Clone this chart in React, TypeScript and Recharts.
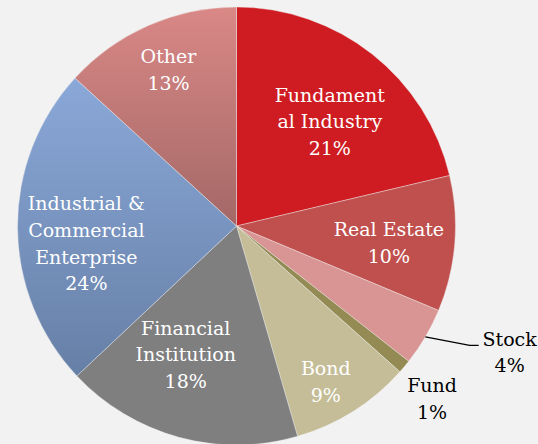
import React from 'react';
import { PieChart, Pie, Cell } from 'recharts';

const categories = [
  'Fundamental Industry',
  'Real Estate',
  'Stock',
  'Fund',
  'Bond',
  'Financial Institution',
  'Industrial & Commercial Enterprise',
  'Other',
];
const shares = [21.3, 10.0, 4.3, 1.0, 8.9, 17.5, 23.8, 13.2];
const labelLines = [
  ['Fundament', 'al Industry'],
  ['Real Estate'],
  ['Stock'],
  ['Fund'],
  ['Bond'],
  ['Financial', 'Institution'],
  ['Industrial &', 'Commercial', 'Enterprise'],
  ['Other'],
];

const data = categories.map((name, i) => ({ name, value: shares[i], lines: labelLines[i] }));

const fills = ['#CE1C22', '#C0504D', '#D99594', '#948A54', '#C4BD97', '#7F7F7F', 'url(#gradBlue)', 'url(#gradRose)'];

// label placement: [radius as share of outer radius, angle nudge in degrees]
const labelPlace: Record<string, [number, number]> = {
  'Fundamental Industry': [0.64, -3.4],
  'Real Estate': [0.7, -1.6],
  Fund: [1.19, -1.4],
  Bond: [0.82, -2.4],
  'Financial Institution': [0.63, -6.3],
  'Industrial & Commercial Enterprise': [0.69, 6.2],
  Other: [0.78, -0.3],
};

const RAD = Math.PI / 180;
const FONT = '"DejaVu Serif", serif';
const LH = 26.7;

const renderLabel = (props: any) => {
  const { cx, cy, midAngle, outerRadius, percent, payload, name } = props;
  const lines: string[] = [...(payload.lines || []), `${Math.round(percent * 100)}%`];
  const key = name ?? payload.name;

  if (key === 'Stock') {
    const sx = cx + outerRadius * Math.cos(-midAngle * RAD);
    const sy = cy + outerRadius * Math.sin(-midAngle * RAD);
    const ex = cx + outerRadius * 1.196 * Math.cos(27.1 * RAD);
    const ey = cy + outerRadius * 1.196 * Math.sin(27.1 * RAD);
    const tx = ex + 9;
    const y0 = ey + 6.8 - LH / 2;
    return (
      <g>
        <path d={`M${sx},${sy}L${ex},${ey}L${tx},${ey}`} stroke="#000" strokeWidth={1.3} fill="none" />
        <text fontFamily={FONT} fontSize={19} fill="#000" textAnchor="middle">
          {lines.map((l, i) => (
            <tspan key={i} x={tx + 31} y={y0 + i * LH} dominantBaseline="central">
              {l}
            </tspan>
          ))}
        </text>
      </g>
    );
  }

  const [rf, nudge] = labelPlace[key] || [0.7, 0];
  const a = (midAngle + nudge) * RAD;
  const x = cx + outerRadius * rf * Math.cos(-a);
  const y = cy + outerRadius * rf * Math.sin(-a);
  const y0 = y - ((lines.length - 1) * LH) / 2;
  const color = key === 'Fund' ? '#000' : '#fff';
  return (
    <text fontFamily={FONT} fontSize={19} fill={color} textAnchor="middle">
      {lines.map((l, i) => (
        <tspan key={i} x={x} y={y0 + i * LH} dominantBaseline="central">
          {l}
        </tspan>
      ))}
    </text>
  );
};

export default function App() {
  return (
    <div style={{ position: 'fixed', left: 0, top: 0, width: 538, height: 444, background: '#F2F2F2' }}>
      <PieChart width={538} height={444} margin={{ top: 0, right: 0, bottom: 0, left: 0 }}>
        <defs>
          <linearGradient id="gradBlue" x1="0" y1="0" x2="0" y2="1">
            <stop offset="0%" stopColor="#8AA8D8" />
            <stop offset="100%" stopColor="#667FA6" />
          </linearGradient>
          <linearGradient id="gradRose" x1="0" y1="0" x2="0" y2="1">
            <stop offset="0%" stopColor="#D98886" />
            <stop offset="100%" stopColor="#A36866" />
          </linearGradient>
        </defs>
        <Pie
          data={data}
          dataKey="value"
          nameKey="name"
          cx={236.5}
          cy={226}
          outerRadius={219}
          startAngle={90}
          endAngle={-270}
          stroke="#F2F2F2"
          strokeWidth={0.4}
          label={renderLabel}
          labelLine={false}
          isAnimationActive={false}
        >
          {data.map((d, i) => (
            <Cell key={d.name} fill={fills[i]} />
          ))}
        </Pie>
      </PieChart>
    </div>
  );
}
